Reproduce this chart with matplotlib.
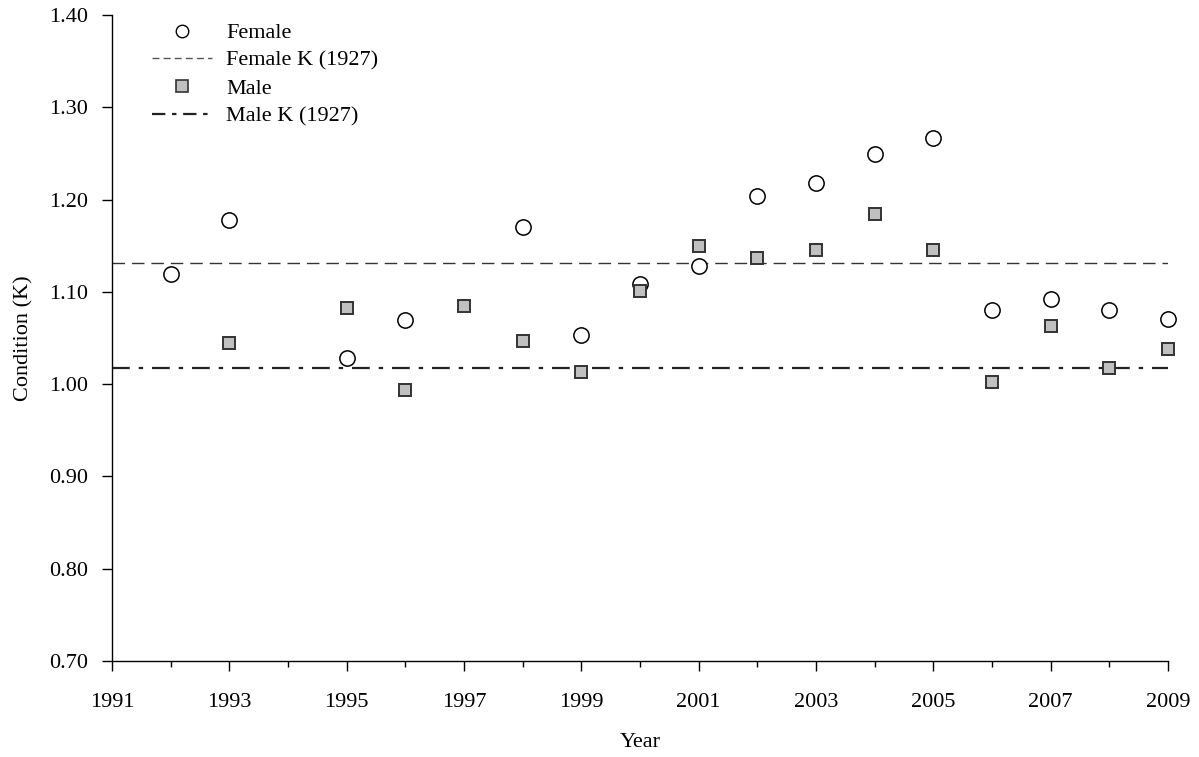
import matplotlib
matplotlib.use("Agg")
import matplotlib.pyplot as plt
from matplotlib.lines import Line2D
from matplotlib.ticker import FixedLocator, FormatStrFormatter, MultipleLocator

plt.rcParams['font.family'] = ['Liberation Serif', 'DejaVu Serif']

# data
female_years = [1992, 1993, 1995, 1996, 1998, 1999, 2000, 2001, 2002, 2003,
                2004, 2005, 2006, 2007, 2008, 2009]
female_k = [1.119, 1.178, 1.028, 1.070, 1.170, 1.053, 1.109, 1.128, 1.204,
            1.218, 1.249, 1.267, 1.080, 1.092, 1.080, 1.071]

male_years = [1993, 1995, 1996, 1997, 1998, 1999, 2000, 2001, 2002, 2003,
              2004, 2005, 2006, 2007, 2008, 2009]
male_k = [1.045, 1.082, 0.994, 1.085, 1.047, 1.013, 1.101, 1.150, 1.137,
          1.145, 1.184, 1.145, 1.002, 1.063, 1.018, 1.038]

female_k_1927 = 1.131
male_k_1927 = 1.017
year_span = [1991, 2009]
major_years = list(range(1991, 2010, 2))
minor_years = list(range(1992, 2009, 2))

fs = 16

fig = plt.figure(figsize=(11.99, 7.57), dpi=100)
ax = fig.add_axes([0.0934, 0.1268, 0.8807, 0.8534])

ax.plot(year_span, [female_k_1927] * 2, color='#333333', lw=1.0,
        dashes=(9, 5), zorder=1)
ax.plot(year_span, [male_k_1927] * 2, color='#222222', lw=1.6,
        dashes=(8, 4, 2, 4), zorder=1)

ax.plot(female_years, female_k, 'o', ms=11, mfc='white', mec='black',
        mew=1.1, zorder=3, clip_on=False)
ax.plot(male_years, male_k, 's', ms=8.5, mfc='#c0c0c0', mec='#333333',
        mew=1.4, zorder=3, clip_on=False)

ax.set_xlim(1991, 2009)
ax.set_ylim(0.70, 1.40)
ax.xaxis.set_major_locator(FixedLocator(major_years))
ax.xaxis.set_minor_locator(FixedLocator(minor_years))
ax.yaxis.set_major_locator(MultipleLocator(0.1))
ax.yaxis.set_major_formatter(FormatStrFormatter('%.2f'))

for s in ['top', 'right']:
    ax.spines[s].set_visible(False)
for s in ['left', 'bottom']:
    ax.spines[s].set_linewidth(1.0)

ax.tick_params(axis='x', which='major', direction='out', length=7, width=1,
               pad=16, labelsize=fs)
ax.tick_params(axis='x', which='minor', direction='out', length=4, width=1)
ax.tick_params(axis='y', which='major', direction='out', length=7, width=1,
               pad=10, labelsize=fs)

ax.set_xlabel('Year', fontsize=fs)
ax.xaxis.set_label_coords(0.5, -0.112)
ax.set_ylabel('Condition (K)', fontsize=fs)
ax.yaxis.set_label_coords(-0.074, 0.5)

handles = [
    Line2D([], [], ls='none', marker='o', ms=9, mfc='white', mec='black',
           mew=1.0),
    Line2D([], [], color='#555555', lw=1.0, dashes=(5, 3)),
    Line2D([], [], ls='none', marker='s', ms=8, mfc='#c0c0c0', mec='#333333',
           mew=1.2),
    Line2D([], [], color='#222222', lw=1.6, dashes=(6, 3, 2, 3)),
]
labels = ['Female', 'Female K (1927)', 'Male', 'Male K (1927)']
ax.legend(handles, labels, loc='upper left', bbox_to_anchor=(0.038, 0.988),
          frameon=False, fontsize=fs, handlelength=2.7, handletextpad=0.62,
          labelspacing=0.32, borderpad=0, borderaxespad=0)

fig.savefig('out.png', dpi=100)
